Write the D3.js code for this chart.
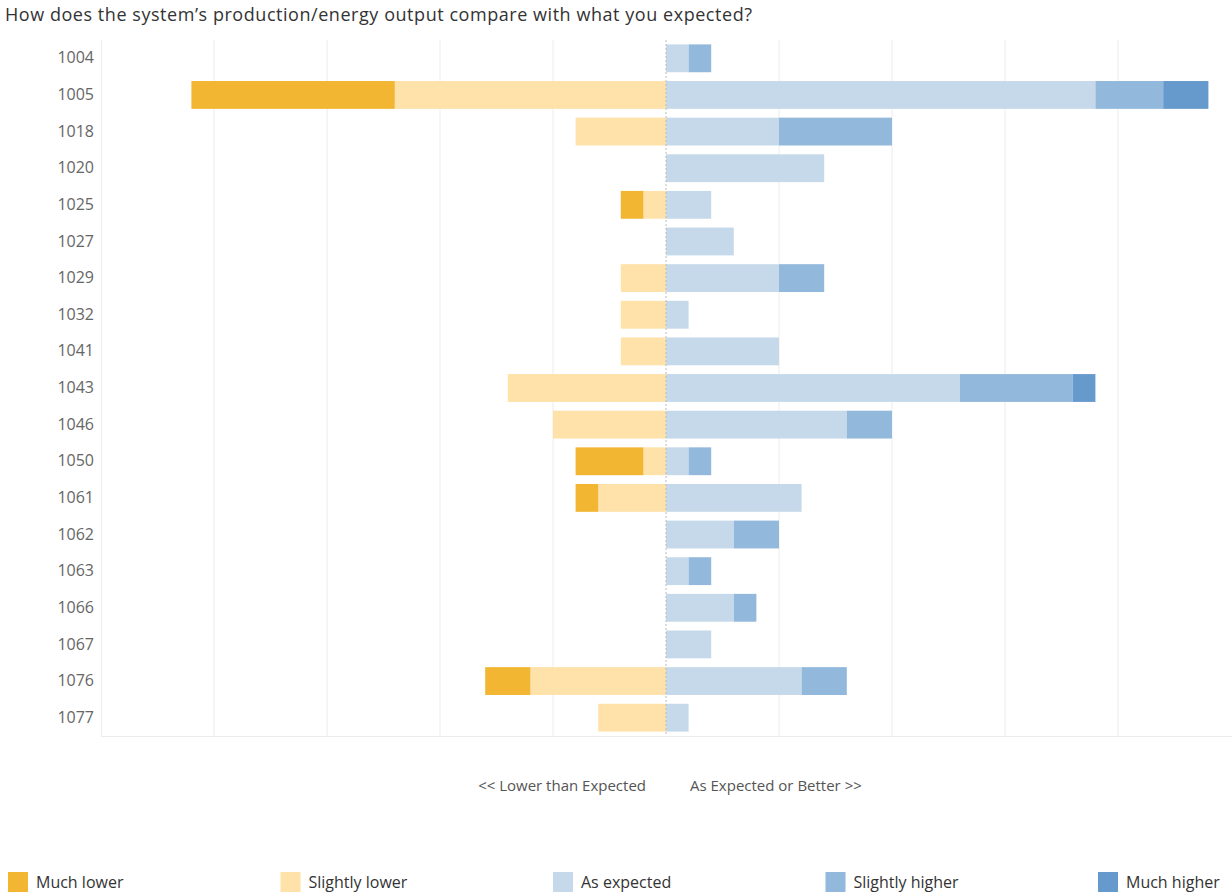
<!DOCTYPE html>
<html><head><meta charset="utf-8">
<script src="https://cdn.jsdelivr.net/npm/d3@7"></script>
<style>body{margin:0;background:#fff;} svg{display:block;font-family:"Open Sans",Lato,sans-serif;}</style>
</head><body>
<svg id="c" width="1232" height="896"></svg>
<script>
const categories = ["1004","1005","1018","1020","1025","1027","1029","1032","1041","1043","1046","1050","1061","1062","1063","1066","1067","1076","1077"];
const muchLower     = [0,9,0,0,1,0,0,0,0,0,0,3,1,0,0,0,0,2,0];
const slightlyLower = [0,12,4,0,1,0,2,2,2,7,5,1,3,0,0,0,0,6,3];
const asExpected    = [1,19,5,7,2,3,5,1,5,13,8,1,6,3,1,3,2,6,1];
const slightlyHigher= [1,3,5,0,0,0,2,0,0,5,2,1,0,2,1,1,0,2,0];
const muchHigher    = [0,2,0,0,0,0,0,0,0,1,0,0,0,0,0,0,0,0,0];
const legendLabels = ["Much lower","Slightly lower","As expected","Slightly higher","Much higher"];
const colors = ["#F2B632","#FFE2AA","#C6D9EA","#92B8DB","#6699CC"];
const xTicks = [-20,-15,-10,-5,0,5,10,15,20];

const svg = d3.select("#c");
const x = d3.scaleLinear().domain([-25,25]).range([101,1231]);
const y = d3.scaleBand().domain(categories).range([40,736]).paddingInner(0.24).paddingOuter(0.12);

svg.append("text").attr("x",5).attr("y",21).attr("fill","#333").style("font-size","18px")
  .attr("textLength",747).attr("lengthAdjust","spacing")
  .text("How does the system\u2019s production/energy output compare with what you expected?");

// grid
svg.append("g").selectAll("line").data(xTicks.filter(d=>d!==0)).join("line")
  .attr("x1",d=>x(d)).attr("x2",d=>x(d)).attr("y1",40).attr("y2",736)
  .attr("stroke","#ececec").attr("stroke-width",1);
svg.append("line").attr("x1",101.5).attr("x2",101.5).attr("y1",40).attr("y2",736).attr("stroke","#ececec");
svg.append("line").attr("x1",101).attr("x2",1232).attr("y1",736.5).attr("y2",736.5).attr("stroke","#ececec");

// bars
const rows = categories.map((c,i)=>({c, v:[muchLower[i],slightlyLower[i],asExpected[i],slightlyHigher[i],muchHigher[i]]}));
const segs = [];
rows.forEach(r=>{
  let left = 0;
  [1,0].forEach(k=>{ const s=left-r.v[k]; segs.push({c:r.c,k,x0:s,x1:left}); left=s; });
  let right = 0;
  [2,3,4].forEach(k=>{ const e=right+r.v[k]; segs.push({c:r.c,k,x0:right,x1:e}); right=e; });
});
svg.append("g").selectAll("rect").data(segs.filter(s=>s.x1>s.x0)).join("rect")
  .attr("x",d=>x(d.x0)).attr("width",d=>x(d.x1)-x(d.x0))
  .attr("y",d=>y(d.c)).attr("height",y.bandwidth())
  .attr("fill",d=>colors[d.k]);

// center dashed line
svg.append("line").attr("x1",x(0)).attr("x2",x(0)).attr("y1",40).attr("y2",736)
  .attr("stroke","#bbb").attr("stroke-dasharray","2,2");

// y labels
const ya = svg.append("g").attr("transform","translate(94,0)")
  .call(d3.axisLeft(y).tickSize(0).tickPadding(0));
ya.select(".domain").remove();
ya.selectAll("text").attr("fill","#666").style("font-size","16px").style("font-family","'Open Sans',Lato,sans-serif");

// direction labels
svg.append("text").attr("x",646).attr("y",791).attr("text-anchor","end").attr("fill","#555").style("font-size","15px").text("<< Lower than Expected");
svg.append("text").attr("x",690).attr("y",791).attr("fill","#555").style("font-size","15px").text("As Expected or Better >>");

// legend
const lg = svg.append("g").selectAll("g").data(legendLabels).join("g")
  .attr("transform",(d,i)=>`translate(${8+i*272.5},872)`);
lg.append("rect").attr("width",20).attr("height",20).attr("fill",(d,i)=>colors[i]);
lg.append("text").attr("x",28).attr("y",16).attr("fill","#333").style("font-size","16px").text(d=>d);
</script>
</body></html>
